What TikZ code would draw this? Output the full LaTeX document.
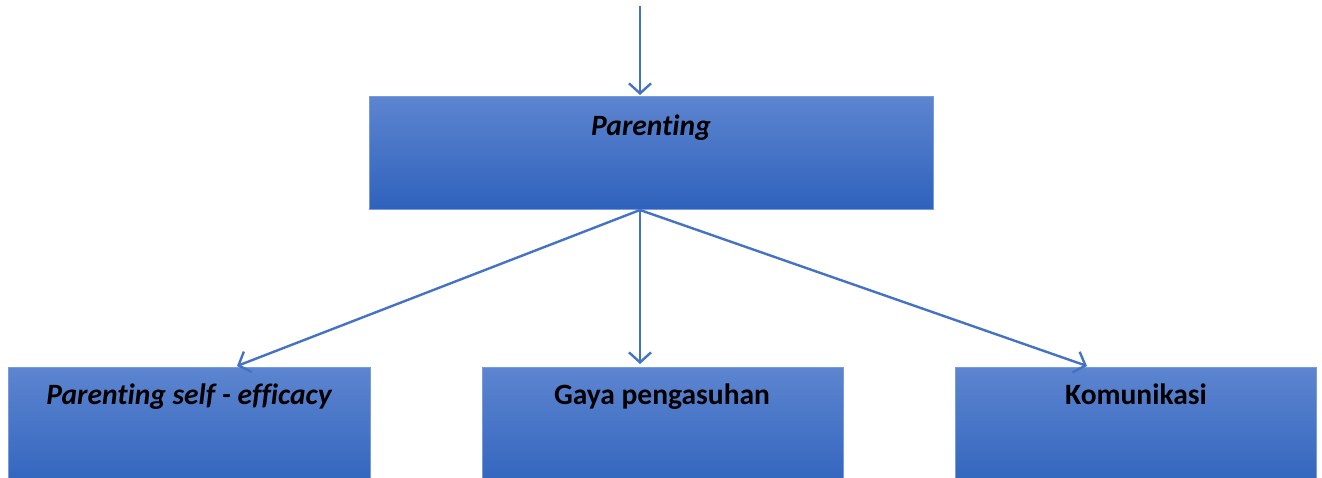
\documentclass[tikz,border=0pt]{standalone}
\usepackage{fontspec}
\setmainfont[Ligatures=NoCommon]{Carlito}
\usetikzlibrary{arrows.meta}
\definecolor{boxtop}{RGB}{93,133,208}
\definecolor{boxbot}{RGB}{47,98,188}
\definecolor{boxedge}{RGB}{120,155,220}
\definecolor{linec}{RGB}{68,114,196}
\tikzset{
  blockbox/.style={draw=boxedge, line width=1pt, top color=boxtop, bottom color=boxbot, inner sep=0pt},
  conn/.style={draw=linec, line width=2.4pt, -{Straight Barb[length=10pt,width=22pt,line width=2.4pt]}},
  lbl/.style={font=\bfseries\fontsize{29.5}{34}\selectfont, anchor=base, inner sep=0pt}
}
\begin{document}
\begin{tikzpicture}[x=1pt,y=-1pt]
\useasboundingbox (0,0) rectangle (1322,477);
\clip (0,0) rectangle (1322,477);
% boxes
\path[blockbox] (369,96) rectangle (933,209);
\path[blockbox] (8,367) rectangle (370,495);
\path[blockbox] (482,367) rectangle (843,495);
\path[blockbox] (955,367) rectangle (1316,495);
% named anchors
\coordinate (top) at (640,6);
\coordinate (pTop) at (640,95);
\coordinate (pBot) at (640,210);
\coordinate (lTop) at (237,366);
\coordinate (mTop) at (640,364);
\coordinate (rTop) at (1087,366);
% labels
\node[lbl] (p) at (651,135) {\itshape Parenting};
\node[lbl] (l) at (189,404) {\itshape Parenting self - efficacy};
\node[lbl] (m) at (662,404) {Gaya pengasuhan};
\node[lbl] (r) at (1136,404) {Komunikasi};
% connectors
\draw[conn] (top) -- (pTop);
\draw[conn] (pBot) -- (lTop);
\draw[conn] (pBot) -- (mTop);
\draw[conn] (pBot) -- (rTop);
\end{tikzpicture}
\end{document}
